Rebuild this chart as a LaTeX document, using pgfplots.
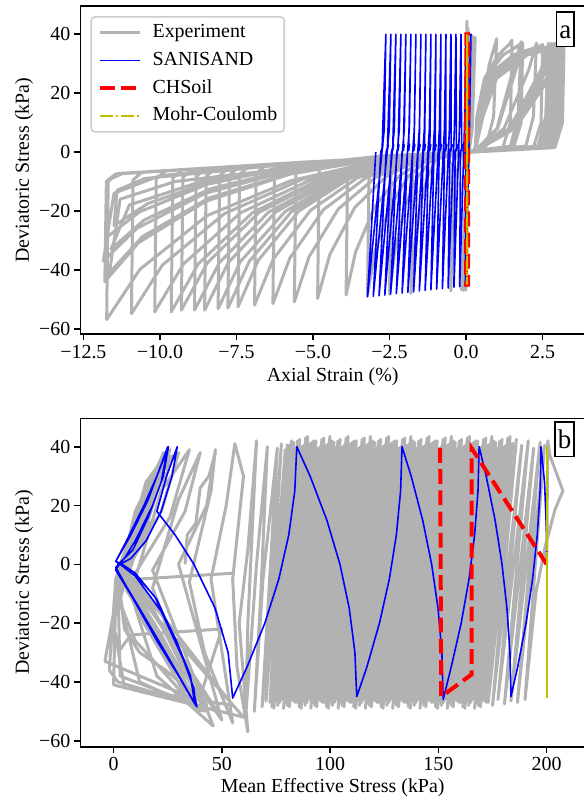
\documentclass[border=0pt]{standalone}
\usepackage{fontspec}
\setmainfont{Liberation Serif}
\usepackage{pgfplots}
\pgfplotsset{compat=1.18}

\definecolor{expgray}{RGB}{178,178,178}
\definecolor{mcyellow}{RGB}{191,191,0}
\definecolor{legframe}{RGB}{204,204,204}

\tikzset{
  tag/.style={draw, line width=0.8bp, fill=white, anchor=north east,
    inner xsep=1.45bp, inner ysep=1.2bp, text height=12bp, text depth=2.9bp,
    font=\fontsize{13.5}{16}\selectfont},
}

\pgfplotsset{
  panel/.style={
    width=252.3bp, height=164bp, scale only axis,
    axis line style={line width=0.8bp},
    tick align=outside, tick pos=left,
    major tick length=3.2bp,
    tick style={line width=0.8bp, black},
    tick label style={font=\fontsize{10}{12}\selectfont},
    label style={font=\fontsize{10}{12}\selectfont},
    xticklabel style={anchor=center, inner sep=0pt, yshift=-5.65bp},
    yticklabel style={anchor=east, inner sep=0pt, xshift=-1.6bp},
    ytick={-60,-40,-20,0,20,40},
    yticklabels={−60,−40,−20,0,20,40},
    ylabel={Deviatoric Stress (kPa)},
    every axis y label/.style={at={(axis description cs:-0.1114,0.5)}, rotate=90, anchor=center},
  },
  exp/.style={color=expgray, line width=1.5bp, line join=round},
  sani/.style={color=blue, line width=0.8bp, line join=round},
  chs/.style={color=red, line width=2bp, dash pattern=on 7.4bp off 3.2bp},
  mc/.style={color=mcyellow, line width=1bp, dash pattern=on 6.4bp off 1.6bp on 1bp off 1.6bp},
}

\begin{document}
\begin{tikzpicture}

% ---------------- (a) axial strain ----------------
\begin{axis}[panel, at={(0,0)}, anchor=south west,
  xmin=-12.598, xmax=3.885, ymin=-61.8, ymax=49.6,
  xtick={-12.5,-10,-7.5,-5,-2.5,0,2.5},
  xticklabels={−12.5,−10.0,−7.5,−5.0,−2.5,0.0,2.5},
  xlabel={Axial Strain (\%)},
  every axis x label/.style={at={(axis description cs:0.5,-0.1299)}, anchor=center},
  legend style={at={(0.0198,0.9695)}, anchor=north west, draw=legframe,
    line width=0.8bp, rounded corners=2bp, fill=white,
    font=\fontsize{10}{12}\selectfont, cells={anchor=west},
    row sep=3.85bp, column sep=5.2bp, inner xsep=3.5bp, inner ysep=3bp,
    nodes={inner sep=0bp, text height=7.5bp, text depth=2.5bp}},
  legend image code/.code={\draw[#1] (0bp,0bp) -- (20bp,0bp);},
]
\addplot[exp] coordinates {
(0,0) (0.03,44.5) (0.01,-46) (0.06,42) (-0.01,-47) (0.08,41) (-0.03,-46.5) (0.12,40) (-0.08,-47) (0.2,39.5) (-0.15,-46.8) (0.3,39)
(0.2,8) (0.1,0) (-0.3,-1.5) (-0.45,-4) (-0.5,-47.2) (-0.45,-30) (-0.35,-10) (-0.2,-2)
(0.3,0.5) (0.65,2) (0.9,12) (1.0,38.5) (0.75,29.5) (0.45,8) (0.25,0)
(-0.6,-1.2) (-1.45,-1.8) (-1.75,-4.5) (-1.8,-48) (-1.7,-33.6) (-1.5,-18.2) (-1.25,-8.2) (-0.98,-2.4)
(0.3,0.5) (0.35,12) (0.6,25) (1.05,33) (1.4,36.5) (1.5,38) (1.45,10) (1.2,1.5) (0.25,0)
(-0.6,-1.2) (-1.13,-1.12) (-2.15,-2.18) (-2.45,-4.9) (-2.5,-48.3) (-2.33,-33.8) (-1.99,-18.4) (-1.565,-8.2) (-1.106,-2.4)
(0.3,0.5) (1.45,2) (1.7,12) (1.8,37.5) (1.55,28.5) (1.01,8) (0.25,0)
(-0.6,-1.2) (-1.45,-1.3) (-2.87,-2.58) (-3.17,-5.3) (-3.22,-48.6) (-2.98,-34.0) (-2.49,-18.5) (-1.89,-8.3) (-1.24,-2.4)
(0.3,0.5) (0.35,12) (0.6,25) (1.22,33) (1.75,36.5) (1.85,37) (1.8,10) (1.55,1.5) (0.25,0)
(-0.6,-1.2) (-1.76,-1.47) (-3.57,-2.96) (-3.87,-5.7) (-3.92,-48.6) (-3.61,-34.0) (-2.98,-18.5) (-2.20,-8.3) (-1.36,-2.4)
(0.3,0.5) (1.95,2) (2.2,12) (2.3,37) (2.05,28) (1.24,8) (0.25,0)
(-0.6,-1.2) (-2.18,-1.7) (-4.5,-3.48) (-4.8,-6.2) (-4.85,-49.7) (-4.45,-34.8) (-3.64,-18.9) (-2.62,-8.4) (-1.53,-2.5)
(0.3,0.5) (0.35,12) (0.6,25) (1.55,33) (2.4,36) (2.5,36.5) (2.45,10) (2.2,1.5) (0.25,0)
(-0.6,-1.2) (-2.52,-1.89) (-5.26,-3.89) (-5.56,-6.6) (-5.61,-50.9) (-5.13,-35.6) (-4.17,-19.3) (-2.96,-8.7) (-1.67,-2.5)
(0.3,0.5) (2.35,2) (2.6,12) (2.7,37) (2.45,28) (1.42,8) (0.25,0)
(-0.6,-1.2) (-2.84,-2.06) (-5.96,-4.28) (-6.26,-7.0) (-6.31,-51.5) (-5.76,-36.1) (-4.66,-19.6) (-3.28,-8.8) (-1.79,-2.6)
(0.3,0.5) (0.35,12) (0.6,25) (1.2,33) (1.7,36) (1.8,36.5) (1.75,10) (1.5,1.5) (0.25,0)
(-0.6,-1.2) (-3.11,-2.21) (-6.56,-4.61) (-6.86,-7.3) (-6.91,-52.0) (-6.30,-36.4) (-5.08,-19.8) (-3.55,-8.8) (-1.90,-2.6)
(0.3,0.5) (2.45,2) (2.7,12) (2.8,37) (2.55,28) (1.46,8) (0.25,0)
(-0.6,-1.2) (-3.35,-2.34) (-7.1,-4.9) (-7.4,-7.6) (-7.45,-52.6) (-6.79,-36.8) (-5.46,-20.0) (-3.79,-8.9) (-2.0,-2.6)
(0.3,0.5) (0.4,12) (0.7,25) (1.73,33) (2.75,36) (2.85,36.5) (2.8,10) (2.55,1.5) (0.25,0)
(-0.6,-1.2) (-3.5,-2.43) (-7.43,-5.09) (-7.73,-7.8) (-7.78,-53.0) (-7.08,-37.1) (-5.69,-20.1) (-3.94,-9.0) (-2.06,-2.7)
(0.3,0.5) (2.55,2) (2.8,12) (2.9,37) (2.65,28) (1.51,8) (0.25,0)
(-0.6,-1.2) (-3.65,-2.5) (-7.75,-5.26) (-8.05,-8.0) (-8.10,-53.2) (-7.37,-37.2) (-5.91,-20.2) (-4.09,-9.0) (-2.11,-2.7)
(0.3,0.5) (0.45,12) (0.8,25) (1.78,33) (2.85,36) (2.95,36.5) (2.9,10) (2.65,1.5) (0.25,0)
(-0.6,-1.2) (-3.84,-2.61) (-8.19,-5.5) (-8.49,-8.2) (-8.54,-53.7) (-7.77,-37.6) (-6.22,-20.4) (-4.28,-9.1) (-2.19,-2.7)
(0.3,0.5) (1.5,2) (1.75,12) (1.85,36) (1.6,27) (1.03,8) (0.25,0)
(-0.6,-1.2) (-3.99,-2.69) (-8.52,-5.69) (-8.82,-8.4) (-8.87,-53.7) (-8.06,-37.6) (-6.45,-20.4) (-4.43,-9.1) (-2.25,-2.7)
(0.3,0.5) (0.4,12) (0.75,25) (1.8,33) (2.9,36.5) (3.0,37) (2.95,10) (2.7,1.5) (0.25,0)
(-0.6,-1.2) (-4.19,-2.8) (-8.95,-5.92) (-9.25,-8.6) (-9.30,-53.7) (-8.45,-37.6) (-6.75,-20.4) (-4.63,-9.1) (-2.33,-2.7)
(0.3,0.5) (2.7,2) (2.95,12) (3.05,36.5) (2.8,27.5) (1.57,8) (0.25,0)
(-0.6,-1.2) (-4.33,-2.88) (-9.28,-6.1) (-9.58,-8.8) (-9.63,-54.3) (-8.75,-38.0) (-6.98,-20.6) (-4.77,-9.2) (-2.39,-2.7)
(0.3,0.5) (0.5,12) (0.9,25) (1.85,33) (3.0,35.5) (3.1,36) (3.05,10) (2.8,1.5) (0.25,0)
(-0.6,-1.2) (-4.58,-3.02) (-9.82,-6.4) (-10.12,-9.1) (-10.17,-54.3) (-9.23,-38.0) (-7.36,-20.6) (-5.02,-9.2) (-2.49,-2.7)
(0.3,0.5) (2.75,2) (3.0,12) (3.1,36.5) (2.85,27.5) (1.6,8) (0.25,0)
(-0.6,-1.2) (-4.92,-3.2) (-10.58,-6.8) (-10.88,-9.5) (-10.93,-54.9) (-9.92,-38.4) (-7.89,-20.9) (-5.36,-9.3) (-2.62,-2.7)
(0.3,0.5) (0.45,12) (0.85,25) (1.9,33) (3.05,35.5) (3.15,36) (3.1,10) (2.85,1.5) (0.25,0)
(-0.6,-1.2) (-5.28,-3.4) (-11.39,-7.3) (-11.69,-10) (-11.74,-56.9) (-10.65,-39.8) (-8.46,-21.6) (-5.72,-9.7) (-2.77,-2.8)
(0.3,0.5) (2.75,2) (3.0,12) (3.1,36) (2.85,27) (1.6,8) (0.25,0)
(-0.6,-1.2) (-5.3,-3.4) (-11.45,-7.5) (-11.75,-10) (-11.8,-44) (-10.7,-30.8) (-8.5,-16.7) (-5.75,-7.5) (-2.78,-2.2)
(0.3,0.5) (0.55,12) (1.0,25) (2.0,33) (3.1,36) (3.2,36.5) (3.15,10) (2.9,1.5) (0.25,0)
(-0.6,-1.2) (-4.5,-4) (-9.5,-10) (-11.3,-16) (-11.65,-41) (-10.57,-28.7) (-8.40,-15.6) (-5.68,-7.0) (-2.75,-2.1)
(0.3,0.5) (2.65,2) (2.9,12) (3.0,35.5) (2.75,27) (1.55,8) (0.25,0)
(-0.6,-1.2) (-5.3,-3.8) (-10.0,-8) (-11.5,-14) (-11.85,-37) (-10.75,-25.9) (-8.54,-14.1) (-5.77,-6.3) (-2.79,-1.9)
(0.3,0.5) (0.5,12) (0.95,25) (1.95,33) (3.05,35.5) (3.15,36) (3.1,10) (2.85,1.5) (0.25,0)
(-0.6,-1.2) (-4.0,-3.5) (-8.5,-9.5) (-11.0,-18) (-11.6,-33) (-10.52,-23.1) (-8.36,-12.5) (-5.66,-5.6) (-2.74,-1.7)
(0.3,0.5) (2.75,2) (3.0,12) (3.1,36) (2.85,27) (1.6,8) (0.25,0)
(-0.6,-1.2) (-5.3,-3.5) (-11.2,-7.2) (-11.7,-9.5) (-11.75,-29) (-10.66,-20.3) (-8.47,-11.0) (-5.73,-4.9) (-2.77,-1.5)
(0.3,0.5) (0.45,12) (0.9,25) (1.85,33) (2.95,35) (3.05,35.5) (3.0,10) (2.75,1.5) (0.25,0)
(-0.6,-1.2) (-5.0,-3.3) (-10.5,-9) (-11.4,-13) (-11.5,-25) (-10.4,-17.5) (-8.2,-9.5) (-5.5,-4.3) (-2.7,-1.3) (0.2,0)
};
\addlegendentry{Experiment}
\addplot[sani] coordinates {
(0,0) (0.05,10) (0.160,40) (0.11,8) (-0.020,-45.5)
(-0.010,0) (0.060,2.5) (0.030,0.5) (-0.003,40) (-0.053,8) (-0.208,-45.7)
(-0.183,0) (-0.113,2.5) (-0.143,0.5) (-0.167,40) (-0.217,8) (-0.396,-45.9)
(-0.356,0) (-0.286,2.5) (-0.316,0.5) (-0.331,40) (-0.381,8) (-0.585,-46.2)
(-0.530,0) (-0.460,2.5) (-0.490,0.5) (-0.494,40) (-0.544,8) (-0.773,-46.4)
(-0.704,0) (-0.634,2.5) (-0.664,0.5) (-0.657,40) (-0.707,8) (-0.961,-46.6)
(-0.877,0) (-0.807,2.5) (-0.837,0.5) (-0.821,40) (-0.871,8) (-1.149,-46.8)
(-1.050,0) (-0.980,2.5) (-1.010,0.5) (-0.984,40) (-1.034,8) (-1.337,-47.0)
(-1.224,0) (-1.154,2.5) (-1.184,0.5) (-1.148,40) (-1.198,8) (-1.526,-47.2)
(-1.398,0) (-1.328,2.5) (-1.358,0.5) (-1.312,40) (-1.362,8) (-1.714,-47.5)
(-1.571,0) (-1.501,2.5) (-1.531,0.5) (-1.475,40) (-1.525,8) (-1.902,-47.7)
(-1.744,0) (-1.674,2.5) (-1.704,0.5) (-1.638,40) (-1.688,8) (-2.090,-47.9)
(-1.917,0) (-1.847,2.5) (-1.877,0.5) (-1.802,40) (-1.852,8) (-2.278,-48.1)
(-2.090,0) (-2.020,2.5) (-2.050,0.5) (-1.966,40) (-2.016,8) (-2.467,-48.3)
(-2.264,0) (-2.194,2.5) (-2.224,0.5) (-2.129,40) (-2.179,8) (-2.655,-48.6)
(-2.438,0) (-2.368,2.5) (-2.398,0.5) (-2.293,40) (-2.343,8) (-2.843,-48.8)
(-2.611,0) (-2.541,2.5) (-2.571,0.5) (-2.456,40) (-2.506,8) (-3.031,-49.0)
(-2.784,0) (-2.714,2.5) (-2.744,0.5) (-2.620,40) (-2.670,8) (-3.220,-49.2)
(-2.95,0)
};
\addlegendentry{SANISAND}
\addplot[chs] coordinates {
(0,0) (0.01,40) (0.07,40) (0.07,-45) (0.0,-45) (0.01,40)
};
\addlegendentry{CHSoil}
\addplot[mc] coordinates {
(0.03,0) (0.035,40) (0.03,-45) (0.035,40)
};
\addlegendentry{Mohr-Coulomb}
\node[tag, xshift=-5bp, yshift=-2.5bp] at (rel axis cs:1,1) {a};
\end{axis}

% ---------------- (b) stress path ----------------
\begin{axis}[panel, at={(0,-206.35bp)}, anchor=south west, height=164.2bp,
  xmin=-15.33, xmax=217.7, ymin=-62.04, ymax=49.66,
  xtick={0,50,100,150,200},
  xticklabels={0,50,100,150,200},
  xlabel={Mean Effective Stress (kPa)},
  every axis x label/.style={at={(axis description cs:0.5,-0.1255)}, anchor=center},
]
\addplot[exp] coordinates {
(200,0) (200.5,42) (201.5,37) (207.5,25) (203.8,18.5) (199,5) (195,-10) (190,-46)
(199,40.5) (186.5,-47) (197,41.5) (183.5,-46.5) (194,39.5) (180.5,-47.5) (191.5,42) (177.5,-46) (188.5,40.5) (175,-48) (186,42.5)
(173.0,-47.0) (184.0,41.0) (171.2,-46.5) (182.1,43.0) (169.4,-48.5) (180.3,40.0) (167.6,-47.0) (178.4,42.0)
(165.8,-46.0) (176.5,41.5) (164.0,-48.0) (174.7,43.5) (162.2,-49.0) (172.8,40.5) (160.4,-47.0) (170.9,42.5)
(158.6,-46.5) (169.1,39.5) (156.8,-48.5) (167.2,42.0) (155.0,-47.0) (165.3,41.0) (153.2,-46.0) (163.4,43.0)
(151.4,-48.0) (161.6,40.0) (149.6,-49.0) (159.7,42.0) (147.8,-47.0) (157.8,41.5) (146.0,-46.5) (156.0,43.5)
(144.2,-48.5) (154.1,40.5) (142.4,-47.0) (152.2,42.5) (140.6,-46.0) (150.4,39.5) (138.8,-48.0) (148.5,42.0)
(137.0,-49.0) (146.6,41.0) (135.2,-47.0) (144.8,43.0) (133.4,-46.5) (142.9,40.0) (131.6,-48.5) (141.0,42.0)
(129.8,-47.0) (139.1,41.5) (128.0,-46.0) (137.3,43.5) (126.2,-48.0) (135.4,40.5) (124.4,-49.0) (133.5,42.5)
(122.6,-47.0) (131.7,39.5) (120.8,-46.5) (129.8,42.0) (119.0,-48.5) (127.9,41.0) (117.2,-47.0) (126.1,43.0)
(115.4,-46.0) (124.2,40.0) (113.6,-48.0) (122.3,42.0) (111.8,-49.0) (120.5,41.5) (110.0,-47.0) (118.6,43.5)
(108.2,-46.5) (116.7,40.5) (106.4,-48.5) (114.8,42.5) (104.6,-47.0) (113.0,39.5) (102.8,-46.0) (111.1,42.0)
(101.0,-48.0) (109.2,41.0) (99.2,-49.0) (107.4,43.0) (97.4,-47.0) (105.5,40.0) (95.6,-46.5) (103.6,42.0)
(93.8,-48.5) (101.8,41.5) (92.0,-47.0) (99.9,43.5) (90.2,-46.0) (98.0,40.5) (88.4,-48.0) (96.2,42.5)
(86.6,-49.0) (94.3,39.5) (84.8,-47.0) (92.4,42.0) (83.0,-46.5) (90.5,41.0) (81.2,-48.5) (88.7,43.0)
(79.4,-47.0) (86.8,40.0) (77.6,-46.0) (84.9,42.0) (75.8,-48.0) (83.1,41.5) (74.0,-49.0) (81.2,40.5)
(72.2,-47.0) (79.3,39.0) (70.4,-46.5) (77.5,41.0) (68.6,-48.5) (75.6,39.5)
(69,-5) (65,-50) (68,-10) (71,40)
(66,0) (61,-52) (62,-20) (66,42)
(62,5) (58,-20) (62,-57) (57,-35) (55,-5) (60,30) (56,41)
(52,20) (45,-5) (55,-54) (42,-30) (35,-6) (45,25) (47,39)
(43,20) (30,0) (50,-53) (30,-32) (18,-8) (30,22) (40,38)
(33,18) (18,-2) (46,-55) (20,-38) (8,-10) (22,25) (35,39)
(26,16) (10,-3) (42,-50) (12,-40) (3,-12) (18,28) (30,38)
(22,18) (6,-2) (55,-48) (5,-42) (0,-20) (12,20) (27,37)
(18,15) (3,-4) (38,-46) (-4,-33) (2,-8) (14,25) (24,38)
(15,12) (2,-3) (60,-52) (0,-41) (1,-10) (10,18) (22,36)
(12,10) (4,-5) (35,-47) (3,-38) (2,-6) (15,28) (26,39)
(16,15) (5,-2) (48,-50) (2,-40) (-2,-36) (1,-5) (8,10)
};
% second set of cycles, offset by half a step
\addplot[exp, forget plot] coordinates {
(184.5,41.5) (172.1,-47.0) (183.1,43.5) (170.3,-46.0) (181.2,40.5) (168.5,-48.0) (179.4,42.5) (166.7,-49.0) (177.5,39.5)
(164.9,-47.0) (175.6,42.0) (163.1,-46.5) (173.8,41.0) (161.3,-48.5) (171.9,43.0) (159.5,-47.0) (170.0,40.0)
(157.7,-46.0) (168.2,42.0) (155.9,-48.0) (166.3,41.5) (154.1,-49.0) (164.4,43.5) (152.3,-47.0) (162.5,40.5)
(150.5,-46.5) (160.7,42.5) (148.7,-48.5) (158.8,39.5) (146.9,-47.0) (156.9,42.0) (145.1,-46.0) (155.1,41.0)
(143.3,-48.0) (153.2,43.0) (141.5,-49.0) (151.3,40.0) (139.7,-47.0) (149.5,42.0) (137.9,-46.5) (147.6,41.5)
(136.1,-48.5) (145.7,43.5) (134.3,-47.0) (143.9,40.5) (132.5,-46.0) (142.0,42.5) (130.7,-48.0) (140.1,39.5)
(128.9,-49.0) (138.2,42.0) (127.1,-47.0) (136.4,41.0) (125.3,-46.5) (134.5,43.0) (123.5,-48.5) (132.6,40.0)
(121.7,-47.0) (130.8,42.0) (119.9,-46.0) (128.9,41.5) (118.1,-48.0) (127.0,43.5) (116.3,-49.0) (125.2,40.5)
(114.5,-47.0) (123.3,42.5) (112.7,-46.5) (121.4,39.5) (110.9,-48.5) (119.6,42.0) (109.1,-47.0) (117.7,41.0)
(107.3,-46.0) (115.8,43.0) (105.5,-48.0) (113.9,40.0) (103.7,-49.0) (112.1,42.0) (101.9,-47.0) (110.2,41.5)
(100.1,-46.5) (108.3,43.5) (98.3,-48.5) (106.5,40.5) (96.5,-47.0) (104.6,42.5) (94.7,-46.0) (102.7,39.5)
(92.9,-48.0) (100.9,42.0) (91.1,-49.0) (99.0,41.0) (89.3,-47.0) (97.1,43.0) (87.5,-46.5) (95.3,40.0)
(85.7,-48.5) (93.4,42.0) (83.9,-47.0) (91.5,41.5) (82.1,-46.0) (89.6,43.5) (80.3,-48.0) (87.8,40.5)
(78.5,-49.0) (85.9,42.5) (76.7,-47.0) (84.0,39.5) (74.9,-46.5) (82.2,42.0) (73.1,-48.5) (80.3,41.0)
};
\addplot[exp, forget plot] coordinates {
(56,-3) (12,-5) (6,-9) (40,-45) (50,-22) (8,-24) (2,-30)
};
\addplot[exp, forget plot] coordinates {
(47,38) (44,30) (40,26) (38,14) (34,10) (33,0)
};
% liquefied cycles near the origin
\addplot[exp, forget plot] coordinates {
(3,0) (8,10) (14,22) (20,32) (23,38) (20,28) (14,14) (8,4) (4,-2)
(12,-12) (22,-24) (30,-35) (36,-45) (30,-40) (22,-30) (14,-20) (6,-8) (3,-2)
(10,12) (18,26) (22,36) (18,24) (12,12) (6,2) (5,-5)
(16,-18) (26,-30) (34,-42) (40,-50) (32,-44) (20,-34) (10,-26) (4,-15) (2,-5)
(9,8) (16,20) (21,30) (17,18) (11,6) (7,-3) (18,-16) (28,-27) (36,-38) (43,-48)
(35,-43) (24,-36) (12,-30) (5,-22) (3,-10) (6,0)
};
\addplot[sani] coordinates {
(200,0) (200,10) (199,28) (197.4,40)
(196.97,25) (195.66,10) (193.5,-5) (190.48,-20) (186.59,-35) (183.5,-45)
(183.04,-30) (181.66,-15) (179.38,0) (176.18,15) (172.06,30) (168.8,40)
(168.29,25) (166.73,10) (164.15,-5) (160.53,-20) (155.89,-35) (152.2,-46)
(151.61,-30) (149.83,-15) (146.88,0) (142.74,15) (137.42,30) (133.2,40)
(132.55,25) (130.59,10) (127.35,-5) (122.79,-20) (116.94,-35) (112.3,-45)
(111.44,-30) (108.84,-15) (104.54,0) (98.51,15) (90.75,30) (84.6,40)
(83.68,25) (80.9,10) (76.31,-5) (69.86,-20) (61.57,-35) (55.0,-45.5)
(52.9,-30) (46.9,-15) (37.1,0) (28.4,10) (20,18) (24.5,30) (29.4,40)
(27,30) (22,18) (15,8) (8,2) (3,0) (1,-1)
(10,-13) (20,-26) (30,-38) (38.5,-48.5)
(36,-40) (30,-28) (20,-12) (10,-3) (4,0) (1,1)
(6,8) (14,20) (20,30) (25.3,40)
(23,30) (18,20) (10,8) (5,2) (2,0) (1,-1.5)
(12,-15) (24,-30) (38,-48)
(37,-42) (32,-32) (22,-16) (10,-4) (3,0) (1,1)
(8,10) (16,22) (25,40)
(22,28) (16,16) (9,5) (3,0.5) (1,-2)
(11,-14) (23,-29) (37.5,-47.5)
(35.5,-38) (29,-26) (19,-11) (9,-2.5) (2,0.5)
};
\addplot[chs] coordinates {
(200,0) (165.3,39.5) (165.3,-37.5) (151.3,-45) (150.8,41)
};
\addplot[mc] coordinates {
(200,0) (200,40.5) (200,-45.5) (200,0)
};
\node[tag, xshift=-5bp, yshift=-1.4bp] at (rel axis cs:1,1) {b};
\end{axis}

\pgfresetboundingbox
\path[use as bounding box] (-40.2bp,-232bp) rectangle (251.8bp,167bp);
\end{tikzpicture}
\end{document}
